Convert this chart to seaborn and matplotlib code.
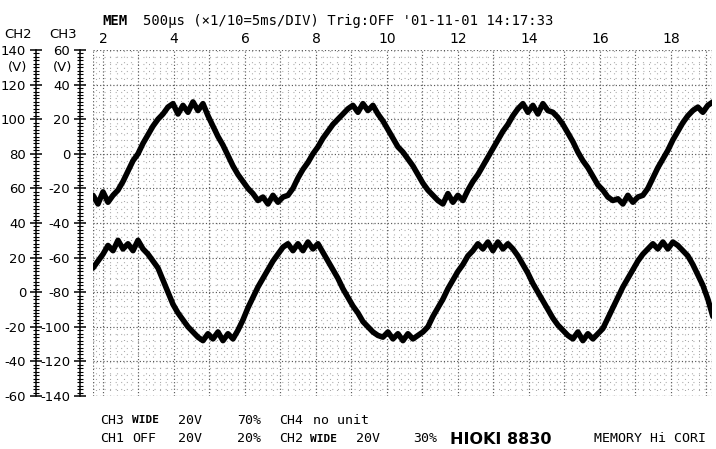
import numpy as np
import matplotlib
matplotlib.use("Agg")
import matplotlib.pyplot as plt
from matplotlib.ticker import FixedLocator, MultipleLocator, FuncFormatter
import seaborn as sns

# Recorder sample clock: horizontal position in divisions (5 ms/DIV)
SAMPLE_START_DIV = 1.72
SAMPLE_STEP_DIV = 0.1408

# CH3 trace in volts (upper waveform)
ch3_volts = [
    -24, -29, -22, -28, -24, -21, -16, -10, -4, 0,
    6, 11, 16, 20, 23, 27, 29, 23, 28, 24,
    30, 25, 29, 22, 16, 10, 5, -1, -7, -12,
    -16, -20, -23, -27, -25, -29, -24, -28, -25, -24,
    -20, -14, -9, -5, 0, 4, 9, 13, 17, 20,
    23, 26, 28, 24, 29, 25, 28, 23, 19, 14,
    9, 4, 1, -3, -7, -12, -17, -21, -24, -27,
    -29, -23, -28, -24, -27, -21, -16, -12, -7, -2,
    3, 8, 13, 17, 22, 26, 29, 24, 28, 23,
    29, 25, 24, 21, 17, 12, 7, 1, -4, -8,
    -13, -18, -21, -25, -27, -26, -29, -24, -28, -25,
    -24, -20, -14, -8, -3, 2, 8, 13, 18, 22,
    25, 27, 24, 28, 30,
]

# CH2 trace in volts (lower waveform)
ch2_volts = [
    14, 18, 22, 27, 24, 30, 25, 28, 24, 30,
    25, 22, 18, 14, 7, 0, -7, -12, -16, -20,
    -23, -26, -28, -24, -27, -23, -28, -24, -27, -22,
    -16, -9, -3, 3, 8, 13, 18, 22, 26, 28,
    24, 28, 24, 29, 25, 28, 23, 18, 13, 8,
    2, -3, -8, -12, -17, -20, -23, -25, -26, -23,
    -27, -24, -28, -24, -27, -25, -23, -20, -14, -9,
    -4, 2, 7, 12, 16, 21, 24, 28, 25, 29,
    24, 29, 25, 28, 25, 21, 16, 11, 5, 0,
    -5, -10, -15, -19, -22, -25, -27, -23, -28, -24,
    -27, -24, -21, -15, -9, -3, 3, 8, 13, 18,
    22, 25, 28, 25, 29, 25, 29, 27, 24, 21,
    16, 10, 4, -4, -14,
]

ch3_ticks = [60, 40, 20, 0, -20, -40, -60, -80, -100, -120, -140]
ch2_ticks = [140, 120, 100, 80, 60, 40, 20, 0, -20, -40, -60]
div_labels = [2, 4, 6, 8, 10, 12, 14, 16, 18]

mode_tag = "MEM"
header = "500\u03bcs (\u00d71/10=5ms/DIV) Trig:OFF '01-11-01 14:17:33"
status_line1 = [("CH3", 100), ("WIDE", 132), ("20V", 178), ("70%", 237),
                ("CH4", 279), ("no unit", 313)]
status_line2 = [("CH1", 100), ("OFF", 132), ("20V", 178), ("20%", 237),
                ("CH2", 279), ("WIDE", 310), ("20V", 356), ("30%", 413)]
brand = "HIOKI 8830"
mode_text = "MEMORY Hi CORI"

sns.set_theme(style="white")
plt.rcParams["font.family"] = ["Liberation Sans Narrow", "DejaVu Sans"]
plt.rcParams["axes.unicode_minus"] = False

W, H = 716, 449
fig = plt.figure(figsize=(W / 100, H / 100), dpi=100)
fig.patch.set_facecolor("white")

def fpos(x, y):
    return x / W, 1 - y / H

L, R, T, B = 93, 712, 50, 396
ax = fig.add_axes([L / W, 1 - B / H, (R - L) / W, (B - T) / H])
ax.set_facecolor("white")
x0, x1 = 1.72, 19.155
ax.set_xlim(x0, x1)
ax.set_ylim(-140, 60)

ax2 = ax.twinx()
ax2.set_ylim(-60, 140)

# dotted recorder grid
major_kw = dict(color="#5a5a5a", lw=0.85, ls=(0, (1, 1.8)), zorder=1)
minor_kw = dict(color="#9c9c9c", lw=0.8, ls=(0, (0.8, 4.2)), zorder=1)
for v in range(-140, 61, 20):
    ax.axhline(v, **major_kw)
for v in range(-136, 60, 4):
    if v % 20:
        ax.axhline(v, **minor_kw)
for d in range(2, 20):
    ax.axvline(d, **major_kw)
ax.axvline(x0, **major_kw)
ax.axvline(x1, **major_kw)
for d in np.arange(1.8, 19.15, 0.2):
    if abs(d - round(d)) > 1e-6:
        ax.axvline(d, **minor_kw)

time_div = SAMPLE_START_DIV + SAMPLE_STEP_DIV * np.arange(len(ch3_volts))
trace_kw = dict(color="black", lw=4.0, solid_joinstyle="round",
                solid_capstyle="round", zorder=3)
sns.lineplot(x=time_div, y=ch3_volts, ax=ax, **trace_kw)
sns.lineplot(x=time_div, y=ch2_volts, ax=ax2, **trace_kw)

# division numbers along the top
ax.xaxis.tick_top()
ax.xaxis.set_major_locator(FixedLocator(div_labels))
ax.tick_params(axis="x", which="both", length=0, pad=3, labelsize=10,
               labelcolor="black")
ax.set_xlabel("")

# voltage scales on two offset left spines
for a, ticks, off in ((ax, ch3_ticks, 13), (ax2, ch2_ticks, 57)):
    for s in ("top", "right", "bottom"):
        a.spines[s].set_visible(False)
    a.spines["left"].set_visible(True)
    a.spines["left"].set_position(("outward", off * 0.72))
    a.spines["left"].set_color("black")
    a.spines["left"].set_linewidth(1.1)
    a.yaxis.tick_left()
    a.yaxis.set_major_locator(FixedLocator(ticks))
    a.yaxis.set_minor_locator(MultipleLocator(2))
    a.yaxis.set_major_formatter(FuncFormatter(lambda v, p: f"{int(v)}"))
    a.tick_params(axis="y", which="major", direction="inout", length=9,
                  width=1.1, color="black", labelsize=9.5, pad=2.5,
                  labelcolor="black")
    a.tick_params(axis="y", which="minor", direction="inout", length=4,
                  width=0.8, color="black")
    a.set_ylabel("")

ax2.spines["right"].set_visible(False)
ax2.yaxis.set_label_position("left")

txt = dict(color="black", va="center")
fig.text(*fpos(18, 34), "CH2", ha="center", fontsize=9.5, **txt)
fig.text(*fpos(63, 34), "CH3", ha="center", fontsize=9.5, **txt)
fig.text(*fpos(18, 68), "(V)", ha="center", fontsize=9.5, **txt)
fig.text(*fpos(63, 68), "(V)", ha="center", fontsize=9.5, **txt)

mono = ["DejaVu Sans Mono"]
fig.text(*fpos(102, 21), mode_tag, ha="left", family=mono, fontsize=10,
         fontweight="bold", **txt)
fig.text(*fpos(143, 21), header, ha="left", family=mono, fontsize=10, **txt)

for label, x in status_line1:
    w = "bold" if label == "WIDE" else "normal"
    fs = 8 if label == "WIDE" else 9.5
    fig.text(*fpos(x, 420), label, ha="left", family=mono, fontsize=fs,
             fontweight=w, **txt)
for label, x in status_line2:
    w = "bold" if label == "WIDE" else "normal"
    fs = 8 if label == "WIDE" else 9.5
    fig.text(*fpos(x, 439), label, ha="left", family=mono, fontsize=fs,
             fontweight=w, **txt)
fig.text(*fpos(450, 439), brand, ha="left", family=["DejaVu Sans"],
         fontsize=11.5, fontweight="bold", **txt)
fig.text(*fpos(594, 439), mode_text, ha="left", family=mono, fontsize=9.5, **txt)

fig.savefig("out.png", dpi=100, facecolor="white")
